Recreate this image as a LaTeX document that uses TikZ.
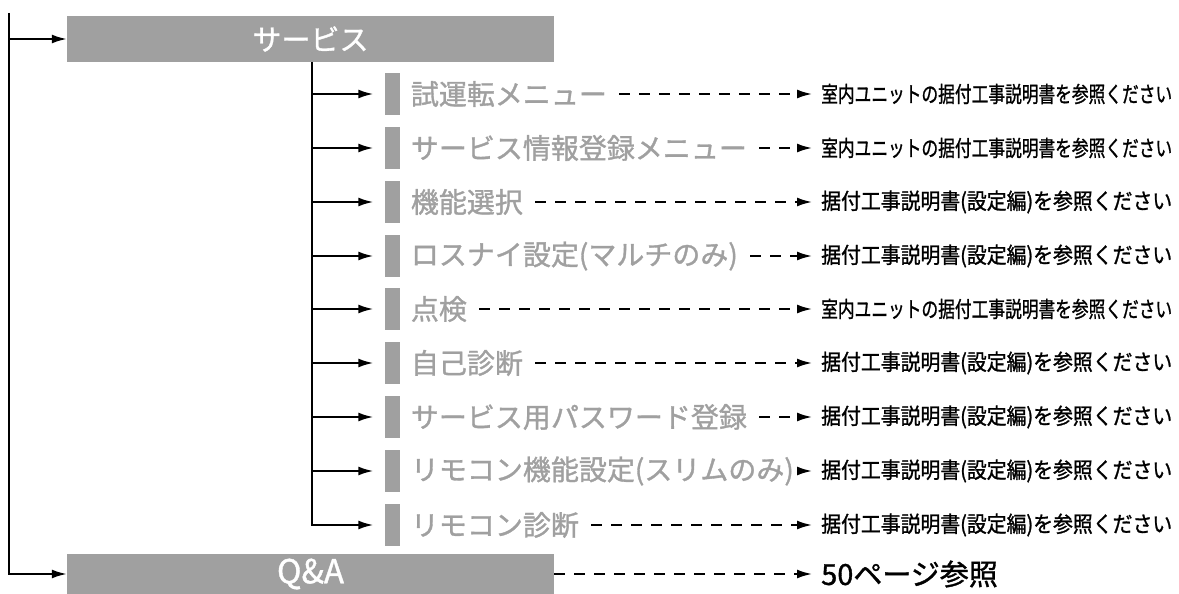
\documentclass[tikz,border=0pt]{standalone}
\usepackage{fontspec}
\usepackage{graphicx}
\newfontfamily\cjk[FakeBold=1.2]{Noto Sans CJK JP}
\usetikzlibrary{arrows.meta}
\usetikzlibrary{positioning}
\definecolor{menugray}{HTML}{A0A0A0}
\newcommand{\notetext}[1]{\resizebox{351pt}{\height}{\fontsize{22}{22}\selectfont #1}}
\tikzset{menubox/.style = {fill=menugray, text=white, inner sep=0,
                           minimum width=487pt, minimum height=46pt,
                           font=\cjk\fontsize{29}{29}\selectfont}}
\tikzset{markbar/.style = {fill=menugray, inner sep=0, minimum width=15pt, minimum height=42pt}}
\tikzset{itemlabel/.style = {text=menugray, inner sep=0, anchor=west,
                             font=\cjk\fontsize{28}{28}\selectfont}}
\tikzset{refnote/.style = {inner sep=0, anchor=west, font=\cjk}}
\tikzset{branch/.style = {line width=2pt, -{Latex[length=15pt, width=9pt]}}}
\tikzset{leader/.style = {line width=2pt, -{Latex[length=15pt, width=9pt]},
                          dash pattern=on 11pt off 9pt, shorten >=9pt}}

\begin{document}
\begin{tikzpicture}[x=1pt, y=-1pt]
      \useasboundingbox (0,0) rectangle (1179,594);

      \node [menubox] (svc) at (310.5, 39) {サービス};
      \node [menubox, minimum height=40pt, font=\cjk\fontsize{33}{33}\selectfont] (qa) at (310.5, 574) {Q\&A};

      \node [markbar] (bar1) at (392, 94) {};
      \node [markbar] (bar2) at (392, 148) {};
      \node [markbar] (bar3) at (392, 202) {};
      \node [markbar] (bar4) at (392, 256) {};
      \node [markbar] (bar5) at (392, 309) {};
      \node [markbar] (bar6) at (392, 363) {};
      \node [markbar] (bar7) at (392, 417) {};
      \node [markbar] (bar8) at (392, 471) {};
      \node [markbar] (bar9) at (392, 525) {};

      \node [itemlabel, right=11pt of bar1] (item1) {試運転メニュー};
      \node [itemlabel, right=11pt of bar2] (item2) {サービス情報登録メニュー};
      \node [itemlabel, right=11pt of bar3] (item3) {機能選択};
      \node [itemlabel, right=11pt of bar4] (item4) {ロスナイ設定(マルチのみ)};
      \node [itemlabel, right=11pt of bar5] (item5) {点検};
      \node [itemlabel, right=11pt of bar6] (item6) {自己診断};
      \node [itemlabel, right=11pt of bar7] (item7) {サービス用パスワード登録};
      \node [itemlabel, right=11pt of bar8] (item8) {リモコン機能設定(スリムのみ)};
      \node [itemlabel, right=11pt of bar9] (item9) {リモコン診断};

      \node [refnote] (note1) at (821, 94) {\notetext{室内ユニットの据付工事説明書を参照ください}};
      \node [refnote] (note2) at (821, 148) {\notetext{室内ユニットの据付工事説明書を参照ください}};
      \node [refnote] (note3) at (821, 202) {\notetext{据付工事説明書(設定編)を参照ください}};
      \node [refnote] (note4) at (821, 256) {\notetext{据付工事説明書(設定編)を参照ください}};
      \node [refnote] (note5) at (821, 309) {\notetext{室内ユニットの据付工事説明書を参照ください}};
      \node [refnote] (note6) at (821, 363) {\notetext{据付工事説明書(設定編)を参照ください}};
      \node [refnote] (note7) at (821, 417) {\notetext{据付工事説明書(設定編)を参照ください}};
      \node [refnote] (note8) at (821, 471) {\notetext{据付工事説明書(設定編)を参照ください}};
      \node [refnote] (note9) at (821, 525) {\notetext{据付工事説明書(設定編)を参照ください}};
      \node [refnote, font=\cjk\fontsize{29}{29}\selectfont] (qanote) at (821, 574) {50ページ参照};

      % main branches
      \coordinate (top) at (9, 13);
      \draw [branch] (top) |- (qa.west);
      \draw [branch] (top |- svc.west) -- (svc.west);

      % service submenu
      \coordinate (sub) at (312, 62);
      \draw [branch, shorten >=11pt] (sub) |- (bar9.west);
      \draw [branch, shorten >=11pt] (sub |- bar1) -- (bar1.west);
      \draw [branch, shorten >=11pt] (sub |- bar2) -- (bar2.west);
      \draw [branch, shorten >=11pt] (sub |- bar3) -- (bar3.west);
      \draw [branch, shorten >=11pt] (sub |- bar4) -- (bar4.west);
      \draw [branch, shorten >=11pt] (sub |- bar5) -- (bar5.west);
      \draw [branch, shorten >=11pt] (sub |- bar6) -- (bar6.west);
      \draw [branch, shorten >=11pt] (sub |- bar7) -- (bar7.west);
      \draw [branch, shorten >=11pt] (sub |- bar8) -- (bar8.west);

      % leaders to the notes
      \draw [leader, shorten <=12pt] (item1.east) -- (note1.west);
      \draw [leader, shorten <=12pt] (item2.east) -- (note2.west);
      \draw [leader, shorten <=12pt] (item3.east) -- (note3.west);
      \draw [leader, shorten <=12pt] (item4.east) -- (note4.west);
      \draw [leader, shorten <=12pt] (item5.east) -- (note5.west);
      \draw [leader, shorten <=12pt] (item6.east) -- (note6.west);
      \draw [leader, shorten <=12pt] (item7.east) -- (note7.west);
      \draw [leader, shorten <=6pt] (item8.east) -- (note8.west);
      \draw [leader, shorten <=12pt] (item9.east) -- (note9.west);
      \draw [leader] (qa.east) -- (qanote.west);
    \end{tikzpicture}
\end{document}
